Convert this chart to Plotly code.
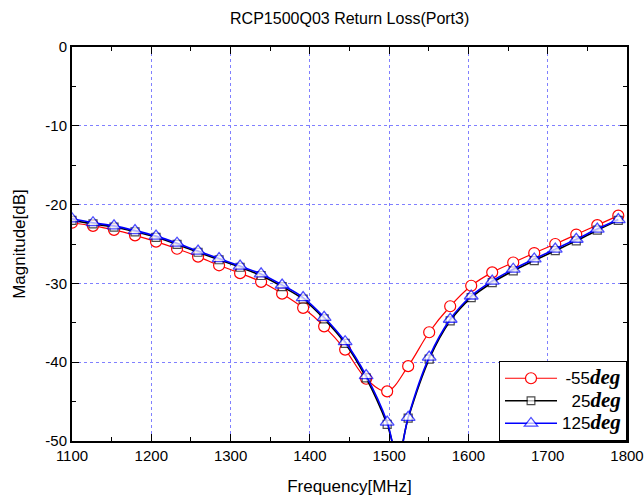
import plotly.graph_objects as go

# ---- data ----
freq = [1100, 1126.5, 1153, 1179.5, 1206, 1232.5, 1259, 1285.5, 1312, 1338.5,
        1365, 1391.5, 1418, 1444.5, 1471, 1497.5, 1524, 1550.5, 1577, 1603.5,
        1630, 1656.5, 1683, 1709.5, 1736, 1762.5, 1789]

m55 = [-22.3, -22.7, -23.2, -23.9, -24.7, -25.6, -26.6, -27.7, -28.7, -29.8,
       -31.3, -33.1, -35.45, -38.4, -42.1, -43.7, -40.5, -36.2, -32.9, -30.3,
       -28.6, -27.35, -26.15, -25.0, -23.8, -22.6, -21.4]

p25 = [-22.0, -22.45, -22.85, -23.45, -24.15, -25.05, -26.05, -27.0, -27.95, -29.0,
       -30.4, -32.0, -34.5, -37.6, -42.0, -47.9, -47.1, -39.6, -34.75, -31.8,
       -29.9, -28.4, -27.1, -25.85, -24.6, -23.25, -22.0]

p125 = [-21.8, -22.3, -22.7, -23.3, -24.0, -24.9, -25.9, -26.85, -27.8, -28.8,
        -30.2, -31.8, -34.3, -37.4, -41.7, -47.6, -47.0, -39.35, -34.55, -31.6,
        -29.7, -28.2, -26.9, -25.65, -24.4, -23.1, -21.9]

# deepest point of the resonance (between markers, line only)
dip_freq = 1511
dip_25 = -52.0
dip_125 = -52.5

names = ["-55", "25", "125"]
pads = ["\u2009", "\u2007", ""]
x_ticks = [1100, 1200, 1300, 1400, 1500, 1600, 1700, 1800]
y_ticks = [0, -10, -20, -30, -40, -50]


def with_dip(xs, ys, dx, dy):
    idx = next(i for i, v in enumerate(xs) if v > dx)
    return xs[:idx] + [dx] + xs[idx:], ys[:idx] + [dy] + ys[idx:], idx


def legend_name(i):
    return ('<span style="font-size:17px">' + pads[i] + names[i] + '</span>'
            '<span style="font-family:\'Liberation Serif\',\'Times New Roman\',serif;font-size:21px">'
            '<b><i>deg</i></b></span>')


fig = go.Figure()

# -55 deg (red circles)
fig.add_trace(go.Scatter(
    x=freq, y=m55, mode="lines+markers", line=dict(color="#ff0000", width=1.2, shape="spline"),
    marker=dict(symbol="circle", size=11, color="white", line=dict(color="#ff0000", width=1.2)),
    name=legend_name(0)))

# 25 deg (black squares)
x2, y2, i2 = with_dip(freq, p25, dip_freq, dip_25)
s2 = [8] * len(x2)
s2[i2] = 0
fig.add_trace(go.Scatter(
    x=x2, y=y2, mode="lines+markers", line=dict(color="#000000", width=1.6, shape="spline"),
    marker=dict(symbol="square", size=s2, color="white", line=dict(color="#000000", width=1.2)),
    name=legend_name(1)))

# 125 deg (blue triangles)
x3, y3, i3 = with_dip(freq, p125, dip_freq, dip_125)
s3 = [12] * len(x3)
s3[i3] = 0
fig.add_trace(go.Scatter(
    x=x3, y=y3, mode="lines+markers", line=dict(color="#0000ff", width=1.6, shape="spline"),
    marker=dict(symbol="triangle-up", size=s3, color="white", line=dict(color="#0000ff", width=1.3)),
    name=legend_name(2)))

axis_common = dict(
    showline=True, linewidth=2, linecolor="black", mirror="ticks",
    ticks="inside", ticklen=7, tickwidth=1, tickcolor="black",
    showgrid=True, gridcolor="#8080ff", griddash="dot", gridwidth=1,
    zeroline=False, tickfont=dict(size=15, color="black"),
    ticklabeloverflow="allow",
)

fig.update_xaxes(
    range=[1100, 1800], tickvals=x_ticks, ticktext=[str(v) for v in x_ticks],
    title=dict(text="Frequency[MHz]", font=dict(size=17, color="black"), standoff=17),
    minor=dict(ticks="inside", dtick=50, tick0=1100, ticklen=4, tickcolor="black", showgrid=False),
    **axis_common)
fig.update_yaxes(
    range=[-50, 0], tickvals=y_ticks, ticktext=[str(v) for v in y_ticks],
    title=dict(text="Magnitude[dB]", font=dict(size=17, color="black"), standoff=15),
    minor=dict(ticks="inside", dtick=5, tick0=0, ticklen=4, tickcolor="black", showgrid=False),
    **axis_common)

fig.update_layout(
    width=644, height=501,
    margin=dict(l=72, r=17, t=47, b=60, autoexpand=False),
    paper_bgcolor="white", plot_bgcolor="white",
    font=dict(family="Liberation Sans, Arial, sans-serif", color="black"),
    title=dict(text="RCP1500Q03 Return Loss(Port3)", x=0.543, xanchor="center",
               y=0.964, yanchor="middle", font=dict(size=16, color="black")),
    legend=dict(x=1, y=0, xanchor="right", yanchor="bottom",
                bgcolor="white", bordercolor="black", borderwidth=1,
                font=dict(size=15, color="black"), itemwidth=52,
                tracegroupgap=0),
    showlegend=True,
)

fig.write_html("out.html",
               config={"displayModeBar": False},
               post_script="document.body.style.margin='0';document.body.style.overflow='hidden';")
